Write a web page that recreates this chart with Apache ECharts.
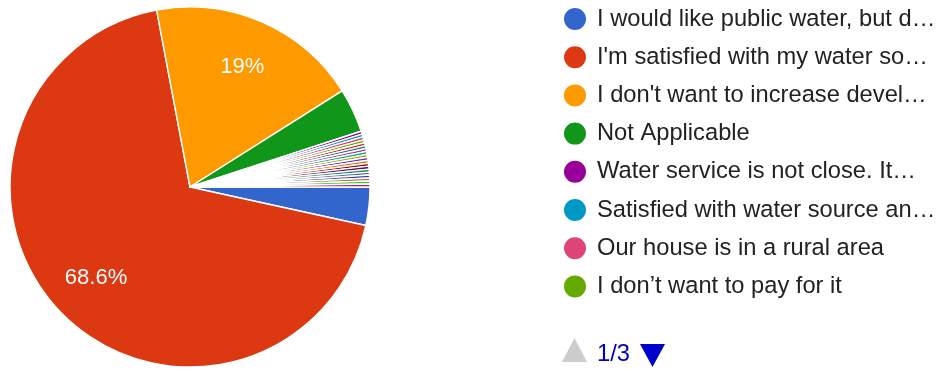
<!DOCTYPE html>
<html>
<head>
<meta charset="utf-8">
<script src="https://cdn.jsdelivr.net/npm/echarts@6/dist/echarts.min.js"></script>
<style>
html,body{margin:0;padding:0;background:#fff;}
#chart{width:944px;height:369px;}
</style>
</head>
<body>
<div id="chart"></div>
<script>
const categories = [
  "I would like public water, but don't know the cost",
  "I'm satisfied with my water source",
  "I don't want to increase development in the area",
  "Not Applicable",
  "Water service is not close. It would cost too much to connect",
  "Satisfied with water source and don't need it",
  "Our house is in a rural area",
  "I don\u2019t want to pay for it",
  "Concerned about the quality of public water",
  "My well works fine",
  "Too expensive",
  "Already have public water",
  "I prefer well water",
  "Don't want chlorinated water",
  "Not sure",
  "Cost of hookup is too high",
  "Only if it is free",
  "I like my spring water",
  "We have a new well",
  "Don't trust the water company",
  "No need at this time",
  "Depends on the cost",
  "Other"
];
const counts = [13, 260, 72, 15, 1, 1, 1, 1, 1, 1, 1, 1, 1, 1, 1, 1, 1, 1, 1, 1, 1, 1, 1];
const colors = ["#3366cc","#dc3912","#ff9900","#109618","#990099","#0099c6","#dd4477","#66aa00",
  "#b82e2e","#316395","#994499","#22aa99","#aaaa11","#6633cc","#e67300","#8b0707",
  "#651067","#329262","#5574a6","#3b3eac","#b77322","#16d620","#b91383"];
const perPage = 8;
const currentPage = 1;

const FONT = "Liberation Sans";
const FS = 23.7;
const FONT_CSS = FS + 'px "' + FONT + '"';
const chart = echarts.init(document.getElementById('chart'));
const pieData = categories.map((n, i) => ({name: n, value: counts[i]}));
const overlayData = categories.map((n, i) => ({name: n, value: counts[i]}));
const totalPages = Math.ceil(categories.length / perPage);
const pageNames = categories.slice((currentPage - 1) * perPage, currentPage * perPage);

const measureCtx = document.createElement('canvas').getContext('2d');
measureCtx.font = FONT_CSS;
function shorten(name) {
  const limit = 341;
  if (measureCtx.measureText(name).width <= limit) return name;
  let n = name.length;
  while (n > 0 && measureCtx.measureText(name.slice(0, n).replace(/\s+$/, '') + '\u2026').width > limit) n--;
  return name.slice(0, n).replace(/\s+$/, '') + '\u2026';
}

chart.setOption({
  animation: false,
  color: colors,
  legend: {
    type: 'plain',
    orient: 'vertical',
    left: 562,
    top: 6,
    padding: 0,
    itemGap: 12.2,
    itemWidth: 34,
    itemHeight: 24,
    icon: 'circle',
    data: pageNames,
    formatter: shorten,
    textStyle: {fontFamily: FONT, fontSize: FS, color: '#222222'}
  },
  graphic: [
    {
      type: 'polygon',
      shape: {points: [[562, 362], [574.5, 338], [587, 362]]},
      style: {fill: currentPage > 1 ? '#0000cc' : '#cccccc'}
    },
    {
      type: 'text',
      left: 597,
      top: 342,
      style: {text: currentPage + '/' + totalPages, fill: '#0000cc', font: FONT_CSS}
    },
    {
      type: 'polygon',
      shape: {points: [[640, 344], [665, 344], [652.5, 367]]},
      style: {fill: currentPage < totalPages ? '#0000cc' : '#cccccc'}
    }
  ],
  series: [
    {
      type: 'pie',
      center: [190, 187],
      radius: [0, 180],
      startAngle: 0,
      clockwise: true,
      avoidLabelOverlap: false,
      data: pieData,
      itemStyle: {borderColor: '#ffffff', borderWidth: 1.4},
      label: {show: false},
      labelLine: {show: false},
      emphasis: {scale: false}
    },
    {
      type: 'pie',
      center: [190, 187],
      radius: [76, 180],
      startAngle: 0,
      clockwise: true,
      silent: true,
      legendHoverLink: false,
      avoidLabelOverlap: false,
      data: overlayData,
      itemStyle: {color: 'rgba(0,0,0,0)', borderWidth: 0},
      label: {
        show: true,
        position: 'inside',
        color: '#ffffff',
        fontFamily: FONT,
        fontSize: 22,
        formatter: function (p) {
          if (p.percent < 5) return '';
          return Number(p.percent.toFixed(1)) + '%';
        }
      },
      labelLine: {show: false},
      emphasis: {disabled: true}
    }
  ]
});
</script>
</body>
</html>
